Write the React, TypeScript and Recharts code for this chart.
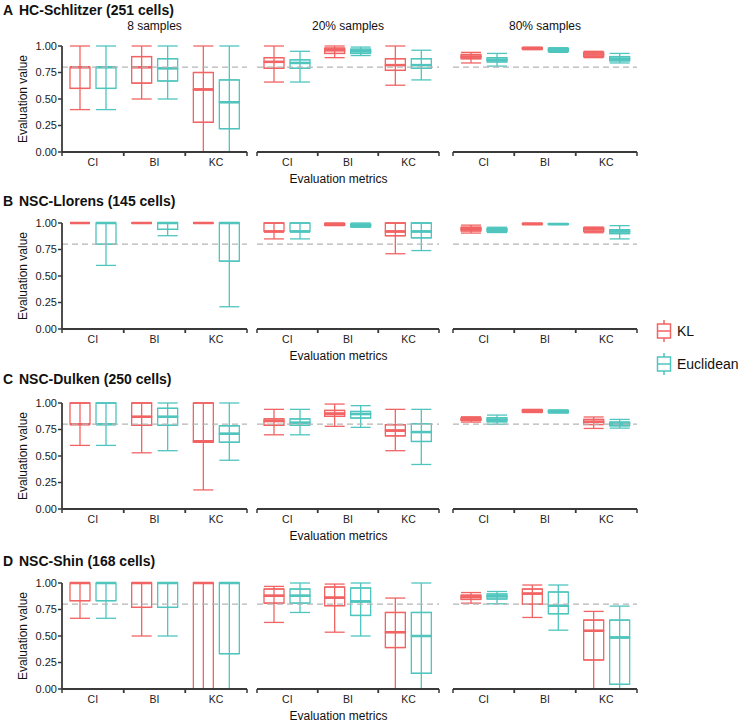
import React from 'react';
import { ComposedChart, Bar, XAxis, YAxis, ReferenceLine } from 'recharts';

// ---------------- data ----------------
const metrics = ['CI', 'BI', 'KC'];
const facetLabels = ['8 samples', '20% samples', '80% samples'];
const panelLetters = ['A', 'B', 'C', 'D'];
const datasetNames = [
  'HC-Schlitzer (251 cells)',
  'NSC-Llorens (145 cells)',
  'NSC-Dulken (250 cells)',
  'NSC-Shin (168 cells)',
];
const methodNames = ['KL', 'Euclidean'];
const yTicks = [0, 0.25, 0.5, 0.75, 1];
const thresholdValue = 0.8;

// [facet][metric] = [min, q1, median, q3, max]
const schlitzerKL = [
  [[0.40, 0.60, 0.80, 0.80, 1.00], [0.50, 0.65, 0.80, 0.90, 1.00], [0.00, 0.28, 0.59, 0.75, 1.00]],
  [[0.66, 0.79, 0.85, 0.89, 1.00], [0.89, 0.93, 0.96, 0.98, 1.00], [0.63, 0.77, 0.82, 0.88, 1.00]],
  [[0.84, 0.88, 0.90, 0.92, 0.94], [0.965, 0.97, 0.978, 0.984, 0.99], [0.89, 0.90, 0.92, 0.94, 0.95]],
];
const schlitzerEU = [
  [[0.40, 0.60, 0.80, 0.80, 1.00], [0.50, 0.67, 0.79, 0.88, 1.00], [0.00, 0.22, 0.47, 0.68, 1.00]],
  [[0.66, 0.79, 0.84, 0.87, 0.95], [0.91, 0.93, 0.95, 0.97, 0.99], [0.68, 0.79, 0.82, 0.88, 0.96]],
  [[0.81, 0.85, 0.87, 0.89, 0.93], [0.94, 0.95, 0.965, 0.978, 0.984], [0.84, 0.86, 0.88, 0.90, 0.93]],
];
const llorensKL = [
  [[1, 1, 1, 1, 1], [1, 1, 1, 1, 1], [1, 1, 1, 1, 1]],
  [[0.85, 0.92, 0.92, 1.00, 1.00], [0.975, 0.98, 0.99, 0.995, 1.00], [0.71, 0.88, 0.92, 1.00, 1.00]],
  [[0.905, 0.925, 0.943, 0.96, 0.98], [0.985, 0.99, 0.99, 0.995, 1.00], [0.908, 0.92, 0.94, 0.955, 0.962]],
];
const llorensEU = [
  [[0.60, 0.80, 1.00, 1.00, 1.00], [0.88, 0.94, 1.00, 1.00, 1.00], [0.21, 0.64, 1.00, 1.00, 1.00]],
  [[0.85, 0.92, 0.92, 1.00, 1.00], [0.96, 0.965, 0.98, 0.99, 1.00], [0.74, 0.86, 0.92, 1.00, 1.00]],
  [[0.91, 0.92, 0.937, 0.95, 0.96], [0.985, 0.987, 0.99, 0.993, 0.995], [0.85, 0.90, 0.92, 0.937, 0.975]],
];
const dulkenKL = [
  [[0.60, 0.80, 0.80, 1.00, 1.00], [0.53, 0.79, 0.87, 1.00, 1.00], [0.18, 0.63, 0.64, 1.00, 1.00]],
  [[0.70, 0.79, 0.83, 0.85, 0.94], [0.78, 0.874, 0.90, 0.93, 0.99], [0.55, 0.69, 0.74, 0.795, 0.94]],
  [[0.82, 0.835, 0.845, 0.86, 0.87], [0.91, 0.915, 0.925, 0.935, 0.94], [0.76, 0.797, 0.823, 0.845, 0.868]],
];
const dulkenEU = [
  [[0.60, 0.80, 0.80, 1.00, 1.00], [0.55, 0.79, 0.87, 0.95, 1.00], [0.46, 0.63, 0.71, 0.785, 1.00]],
  [[0.70, 0.79, 0.814, 0.85, 0.94], [0.77, 0.858, 0.896, 0.92, 0.975], [0.42, 0.637, 0.726, 0.804, 0.94]],
  [[0.80, 0.823, 0.842, 0.86, 0.886], [0.905, 0.91, 0.92, 0.93, 0.935], [0.763, 0.785, 0.804, 0.82, 0.845]],
];
const shinKL = [
  [[0.667, 0.833, 1, 1, 1], [0.5, 0.77, 1, 1, 1], [0, 0, 1, 1, 1]],
  [[0.628, 0.81, 0.88, 0.943, 0.968], [0.536, 0.786, 0.862, 0.962, 0.99], [0, 0.391, 0.536, 0.722, 0.858]],
  [[0.81, 0.845, 0.867, 0.885, 0.91], [0.675, 0.80, 0.90, 0.943, 0.981], [0, 0.274, 0.549, 0.65, 0.732]],
];
const shinEU = [
  [[0.667, 0.833, 1, 1, 1], [0.5, 0.77, 1, 1, 1], [0, 0.333, 1, 1, 1]],
  [[0.722, 0.81, 0.88, 0.943, 1.0], [0.5, 0.694, 0.826, 0.953, 1.0], [0, 0.148, 0.5, 0.722, 1.0]],
  [[0.804, 0.849, 0.874, 0.896, 0.92], [0.555, 0.71, 0.785, 0.915, 0.981], [0, 0.044, 0.486, 0.65, 0.782]],
];

const klSets = [schlitzerKL, llorensKL, dulkenKL, shinKL];
const euSets = [schlitzerEU, llorensEU, dulkenEU, shinEU];

// ---------------- style / layout ----------------
const FONT = '"Liberation Sans", Arial, Helvetica, sans-serif';
const KL_COLOR = '#F26363';
const EU_COLOR = '#4FC5BE';
const AXIS_COLOR = '#3a3a3a';
const THIN = 1.3;
const MED = 2.3;

const rowPlotTops = [46, 223, 403, 583];
const PLOT_H = 106;
const M_TOP = 8;
const X_AXIS_H = 30;
const CHART_H = M_TOP + PLOT_H + X_AXIS_H;
const panels = [
  { left: 0, width: 250, mLeft: 0, mRight: 3, yAxis: true },
  { left: 254, width: 188, mLeft: 3, mRight: 3, yAxis: false },
  { left: 450, width: 190, mLeft: 3, mRight: 3, yAxis: false },
];
const Y_AXIS_W = 62;
const titleBaselines = [15, 206, 384, 566];

function buildRows(kl: number[][][], eu: number[][][], f: number) {
  return metrics.map((metric, i) => {
    const a = kl[f][i];
    const b = eu[f][i];
    return {
      metric,
      k0: a[0], k1: a[1] - a[0], k2: a[2] - a[1], k3: a[3] - a[2], k4: a[4] - a[3],
      e0: b[0], e1: b[1] - b[0], e2: b[2] - b[1], e3: b[3] - b[2], e4: b[4] - b[3],
    };
  });
}

const ok = (p: any) =>
  typeof p.x === 'number' && typeof p.y === 'number' && !isNaN(p.y) && !isNaN(p.height);

const EmptyShape = () => <g />;

function LowWhisker(p: any) {
  if (!ok(p)) return <g />;
  const { x, y, width, height, color } = p;
  const cx = x + width / 2;
  return (
    <g>
      <line x1={cx} x2={cx} y1={y} y2={y + height} stroke={color} strokeWidth={THIN} />
      <line x1={x} x2={x + width} y1={y + height} y2={y + height} stroke={color} strokeWidth={THIN} />
    </g>
  );
}
function HighWhisker(p: any) {
  if (!ok(p)) return <g />;
  const { x, y, width, height, color } = p;
  const cx = x + width / 2;
  return (
    <g>
      <line x1={cx} x2={cx} y1={y} y2={y + height} stroke={color} strokeWidth={THIN} />
      <line x1={x} x2={x + width} y1={y} y2={y} stroke={color} strokeWidth={THIN} />
    </g>
  );
}
// box from q1 to median: median at top edge
function LowBox(p: any) {
  if (!ok(p)) return <g />;
  const { x, y, width, height, color } = p;
  const cx = x + width / 2;
  return (
    <g>
      <line x1={cx} x2={cx} y1={y} y2={y + height} stroke={color} strokeWidth={THIN} />
      {height > 0 && (
        <rect x={x} y={y} width={width} height={height} fill="none" stroke={color} strokeWidth={THIN} />
      )}
      <line x1={x} x2={x + width} y1={y + height} y2={y + height} stroke={color} strokeWidth={THIN} />
      <line x1={x} x2={x + width} y1={y} y2={y} stroke={color} strokeWidth={MED} />
    </g>
  );
}
// box from median to q3: median at bottom edge
function HighBox(p: any) {
  if (!ok(p)) return <g />;
  const { x, y, width, height, color } = p;
  const cx = x + width / 2;
  return (
    <g>
      <line x1={cx} x2={cx} y1={y} y2={y + height} stroke={color} strokeWidth={THIN} />
      {height > 0 && (
        <rect x={x} y={y} width={width} height={height} fill="none" stroke={color} strokeWidth={THIN} />
      )}
      <line x1={x} x2={x + width} y1={y} y2={y} stroke={color} strokeWidth={THIN} />
      <line x1={x} x2={x + width} y1={y + height} y2={y + height} stroke={color} strokeWidth={MED} />
    </g>
  );
}

const makeTick = (bw: number) => (props: any) => {
  const { x, y, payload } = props;
  return (
    <g>
      <line x1={x - bw / 2} x2={x - bw / 2} y1={y} y2={y + 4} stroke={AXIS_COLOR} strokeWidth={1.5} />
      <line x1={x + bw / 2} x2={x + bw / 2} y1={y} y2={y + 4} stroke={AXIS_COLOR} strokeWidth={1.5} />
      <text x={x} y={y + 13.5} textAnchor="middle" fontSize={10.5} fill="#222" fontFamily={FONT}>
        {payload.value}
      </text>
    </g>
  );
};

function seriesBars(prefix: string, stackId: string, color: string) {
  const shapes = [
    EmptyShape,
    (p: any) => <LowWhisker {...p} color={color} />,
    (p: any) => <LowBox {...p} color={color} />,
    (p: any) => <HighBox {...p} color={color} />,
    (p: any) => <HighWhisker {...p} color={color} />,
  ];
  return shapes.map((shape, i) => (
    <Bar
      key={prefix + i}
      dataKey={prefix + i}
      stackId={stackId}
      fill="none"
      shape={shape as any}
      isAnimationActive={false}
    />
  ));
}

function Panel({ row, facet }: { row: number; facet: number }) {
  const pl = panels[facet];
  const data = buildRows(klSets[row], euSets[row], facet);
  const plotW = pl.width - pl.mLeft - pl.mRight - (pl.yAxis ? Y_AXIS_W : 0);
  const bw = plotW / metrics.length;
  return (
    <div style={{ position: 'absolute', left: pl.left, top: rowPlotTops[row] - M_TOP }}>
      <ComposedChart
        width={pl.width}
        height={CHART_H}
        data={data}
        margin={{ top: M_TOP, right: pl.mRight, bottom: 0, left: pl.mLeft }}
        barSize={20}
        barGap={6}
      >
        <XAxis
          dataKey="metric"
          height={X_AXIS_H}
          tickLine={false}
          tickSize={0}
          tickMargin={0}
          interval={0}
          axisLine={{ stroke: AXIS_COLOR, strokeWidth: 1.8 }}
          tick={makeTick(bw)}
        />
        {pl.yAxis ? (
          <YAxis
            domain={[0, 1]}
            ticks={yTicks}
            interval={0}
            width={Y_AXIS_W}
            tickSize={4}
            tickMargin={1}
            tickFormatter={(v: number) => v.toFixed(2)}
            axisLine={{ stroke: AXIS_COLOR, strokeWidth: 1.8 }}
            tickLine={{ stroke: AXIS_COLOR, strokeWidth: 1.5 }}
            tick={{ fontSize: 11, fill: '#1a1a1a', fontFamily: FONT }}
          />
        ) : (
          <YAxis hide domain={[0, 1]} />
        )}
        <ReferenceLine y={thresholdValue} stroke="#b5b5b5" strokeDasharray="6 4" strokeWidth={1.2} />
        {seriesBars('k', 'kl', KL_COLOR)}
        {seriesBars('e', 'eu', EU_COLOR)}
      </ComposedChart>
    </div>
  );
}

function LegendIcon({ cx, cy, color }: { cx: number; cy: number; color: string }) {
  return (
    <g>
      <line x1={cx} x2={cx} y1={cy - 11} y2={cy + 11} stroke={color} strokeWidth={1.5} />
      <rect x={cx - 6.5} y={cy - 7} width={13} height={14} fill="#fff" stroke={color} strokeWidth={1.5} />
      <line x1={cx - 6.5} x2={cx + 6.5} y1={cy} y2={cy} stroke={color} strokeWidth={1.5} />
    </g>
  );
}

export default function App() {
  const plotCenters = panels.map((pl) => {
    const start = pl.left + pl.mLeft + (pl.yAxis ? Y_AXIS_W : 0);
    const end = pl.left + pl.width - pl.mRight;
    return (start + end) / 2;
  });
  return (
    <div
      style={{
        position: 'absolute',
        left: 0,
        top: 0,
        width: 738,
        height: 724,
        background: '#fff',
        overflow: 'hidden',
        fontFamily: FONT,
      }}
    >
      {rowPlotTops.map((_, r) =>
        panels.map((__, f) => <Panel key={`${r}-${f}`} row={r} facet={f} />)
      )}
      <svg
        width={738}
        height={724}
        style={{ position: 'absolute', left: 0, top: 0, pointerEvents: 'none' }}
      >
        {datasetNames.map((name, r) => (
          <g key={name}>
            <text x={3} y={titleBaselines[r]} fontSize={14} fontWeight="bold" fill="#111" fontFamily={FONT}>
              {panelLetters[r]}
            </text>
            <text x={19} y={titleBaselines[r]} fontSize={14} fontWeight="bold" fill="#111" fontFamily={FONT}>
              {name}
            </text>
            <text
              x={338.5}
              y={rowPlotTops[r] + PLOT_H + 31}
              fontSize={12}
              textAnchor="middle"
              fill="#111"
              fontFamily={FONT}
            >
              Evaluation metrics
            </text>
            <text
              transform={`translate(27, ${rowPlotTops[r] + PLOT_H / 2}) rotate(-90)`}
              fontSize={12}
              textAnchor="middle"
              fill="#111"
              fontFamily={FONT}
            >
              Evaluation value
            </text>
          </g>
        ))}
        {facetLabels.map((lab, f) => (
          <text
            key={lab}
            x={plotCenters[f]}
            y={30}
            fontSize={12}
            textAnchor="middle"
            fill="#111"
            fontFamily={FONT}
          >
            {lab}
          </text>
        ))}
        <LegendIcon cx={664} cy={331} color={KL_COLOR} />
        <text x={677} y={336} fontSize={14} fill="#111" fontFamily={FONT}>
          {methodNames[0]}
        </text>
        <LegendIcon cx={664} cy={364} color={EU_COLOR} />
        <text x={677} y={369} fontSize={14} fill="#111" fontFamily={FONT}>
          {methodNames[1]}
        </text>
      </svg>
    </div>
  );
}
